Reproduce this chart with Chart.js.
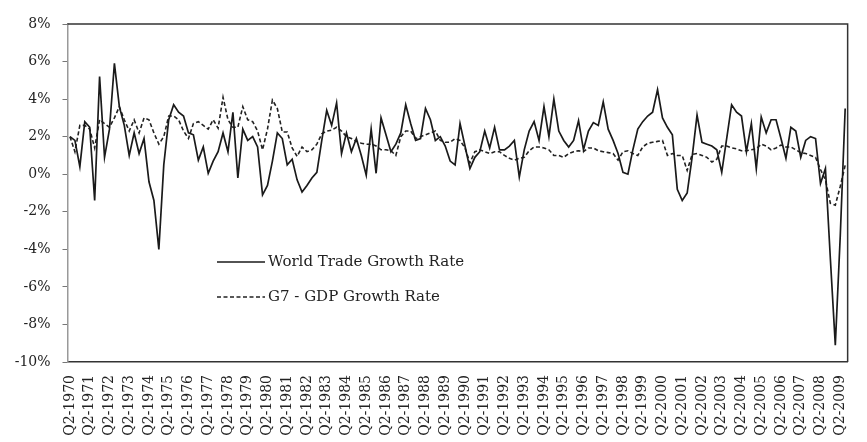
<!DOCTYPE html>
<html>
<head>
<meta charset="utf-8">
<script src="https://cdn.jsdelivr.net/npm/chart.js@4/dist/chart.umd.min.js"></script>
<style>
  html, body { margin: 0; padding: 0; background: #fff; }
  canvas { display: block; }
</style>
</head>
<body>
<canvas id="tradeChart" width="867" height="442"></canvas>
<script>
// quarterly labels Q2-1970 .. Q3-2009
const quarters = [];
for (let y = 1970; y <= 2009; y++) {
	for (let q = 1; q <= 4; q++) {
		if (y === 1970 && q < 2) continue;
		if (y === 2009 && q > 3) continue;
		quarters.push("Q" + q + "-" + y);
	}
}

const worldTrade = [
	2.0, 1.8, 0.4, 2.8, 2.5, -1.4, 5.2, 0.9, 2.4, 5.9,
	3.6, 2.6, 1.0, 2.2, 1.1, 1.9, -0.4, -1.4, -4.0, 0.5,
	2.9, 3.7, 3.3, 3.1, 2.2, 2.1, 0.75, 1.45, 0.05, 0.7,
	1.2, 2.2, 1.2, 3.3, -0.2, 2.4, 1.8, 2.0, 1.45, -1.1,
	-0.6, 0.7, 2.2, 1.9, 0.5, 0.8, -0.3, -0.95, -0.6, -0.2,
	0.1, 1.8, 3.4, 2.6, 3.8, 1.1, 2.2, 1.2, 1.9, 1.0,
	-0.05, 2.4, 0.05, 3.0, 2.1, 1.2, 1.6, 2.2, 3.7, 2.7,
	1.8, 1.9, 3.5, 2.9, 1.8, 2.0, 1.5, 0.7, 0.5, 2.7,
	1.5, 0.3, 0.9, 1.2, 2.3, 1.4, 2.5, 1.3, 1.3, 1.5,
	1.8, -0.15, 1.3, 2.3, 2.8, 1.8, 3.6, 2.0, 4.0, 2.3,
	1.8, 1.45, 1.8, 2.85, 1.3, 2.3, 2.75, 2.6, 3.85, 2.4,
	1.8, 1.1, 0.1, 0.0, 1.3, 2.4, 2.8, 3.1, 3.3, 4.5,
	3.0, 2.5, 2.1, -0.8, -1.4, -1.0, 0.9, 3.15, 1.7, 1.6,
	1.5, 1.3, 0.1, 1.9, 3.7, 3.3, 3.1, 1.2, 2.7, 0.3,
	3.05, 2.2, 2.9, 2.9, 1.9, 0.85, 2.5, 2.3, 0.9, 1.8,
	2.0, 1.9, -0.5, 0.3, -4.5, -9.1, -3.3, 3.5
];

const g7Gdp = [
	2.0, 1.2, 2.6, 2.6, 2.4, 1.4, 2.9, 2.7, 2.5, 3.0,
	3.6, 2.9, 2.3, 2.9, 2.2, 3.0, 2.9, 2.2, 1.6, 2.0,
	3.1, 3.1, 2.9, 2.3, 1.9, 2.7, 2.8, 2.6, 2.4, 2.9,
	2.45, 4.1, 2.9, 2.5, 2.5, 3.6, 2.9, 2.8, 2.3, 1.3,
	2.4, 3.95, 3.5, 2.25, 2.25, 1.4, 0.95, 1.45, 1.2, 1.3,
	1.6, 2.15, 2.3, 2.35, 2.5, 2.3, 2.0, 1.9, 1.75, 1.65,
	1.6, 1.6, 1.5, 1.3, 1.3, 1.25, 1.0, 2.0, 2.3, 2.3,
	1.9, 2.0, 2.1, 2.2, 2.3, 1.8, 1.7, 1.7, 1.9, 1.8,
	1.4, 0.6, 1.2, 1.3, 1.2, 1.1, 1.2, 1.2, 1.0, 0.85,
	0.75, 0.85, 0.9, 1.25, 1.45, 1.45, 1.4, 1.3, 1.0, 1.0,
	0.9, 1.1, 1.2, 1.25, 1.2, 1.4, 1.4, 1.25, 1.2, 1.15,
	1.1, 0.75, 1.2, 1.25, 1.1, 1.0, 1.45, 1.65, 1.7, 1.75,
	1.8, 1.0, 1.1, 1.0, 1.0, 0.2, 1.05, 1.1, 1.0, 0.9,
	0.65, 0.8, 1.5, 1.5, 1.4, 1.35, 1.25, 1.25, 1.3, 1.35,
	1.6, 1.5, 1.3, 1.4, 1.55, 1.45, 1.45, 1.3, 1.15, 1.1,
	1.0, 0.9, 0.25, -0.3, -1.55, -1.65, -0.65, 0.48
];

const yTicks = [-10, -8, -6, -4, -2, 0, 2, 4, 6, 8];

const serif = "'DejaVu Serif', 'Liberation Serif', serif";

// frame round the plot (top & right dark)
const frame = {
	id: "frame",
	afterDraw(chart) {
		const a = chart.chartArea;
		const c = chart.ctx;
		c.save();
		c.strokeStyle = "#333";
		c.lineWidth = 1.5;
		c.beginPath();
		c.moveTo(a.left, a.top);
		c.lineTo(a.right, a.top);
		c.lineTo(a.right, a.bottom);
		c.stroke();
		c.restore();
	},
};

// legend drawn inside the plot
const innerLegend = {
	id: "innerLegend",
	afterDraw(chart) {
		const c = chart.ctx;
		const rows = [262, 297];
		c.save();
		chart.data.datasets.forEach((ds, i) => {
			const y = rows[i];
			c.strokeStyle = ds.borderColor;
			c.lineWidth = ds.borderWidth;
			c.setLineDash(ds.borderDash || []);
			c.beginPath();
			c.moveTo(217, y);
			c.lineTo(265, y);
			c.stroke();
			c.setLineDash([]);
			c.fillStyle = "#222";
			c.font = "15px " + serif;
			c.textBaseline = "middle";
			c.fillText(ds.label, 268, y);
		});
		c.restore();
	},
};

const ctx = document.getElementById("tradeChart").getContext("2d");

const chart = new Chart(ctx, {
	type: "line",
	data: {
		labels: quarters,
		datasets: [
			{
				label: "World Trade Growth Rate",
				data: worldTrade,
				borderColor: "#1a1a1a",
				borderWidth: 1.7,
				pointRadius: 0,
				tension: 0,
				fill: false,
			},
			{
				label: "G7 - GDP Growth Rate",
				data: g7Gdp,
				borderColor: "#222",
				borderWidth: 1.6,
				borderDash: [4, 2.5],
				pointRadius: 0,
				tension: 0,
				fill: false,
			},
		],
	},
	options: {
		responsive: false,
		animation: false,
		layout: { padding: { top: 24, right: 7, left: 0, bottom: 0 } },
		plugins: {
			legend: { display: false },
			tooltip: { enabled: false },
		},
		scales: {
			x: {
				offset: true,
				grid: { display: false },
				border: { display: true, color: "#333", width: 1.5 },
				ticks: {
					autoSkip: false,
					maxRotation: 90,
					minRotation: 90,
					padding: 5,
					color: "#222",
					font: { family: serif, size: 14 },
					callback: (v, i) => (i % 4 === 0 ? quarters[i] : ""),
				},
				afterFit: (s) => {
					s.height = 80;
				},
			},
			y: {
				min: -10,
				max: 8,
				afterBuildTicks: (s) => {
					s.ticks = yTicks.map((v) => ({ value: v }));
				},
				grid: { drawOnChartArea: false, drawTicks: true, tickLength: 5, color: "#777" },
				border: { display: true, color: "#999", width: 1.5 },
				ticks: {
					padding: 12,
					color: "#222",
					font: { family: serif, size: 14 },
					callback: (v) => v + "%",
				},
				afterFit: (s) => {
					s.width = 67.5;
				},
			},
		},
	},
	plugins: [frame, innerLegend],
});
</script>
</body>
</html>
